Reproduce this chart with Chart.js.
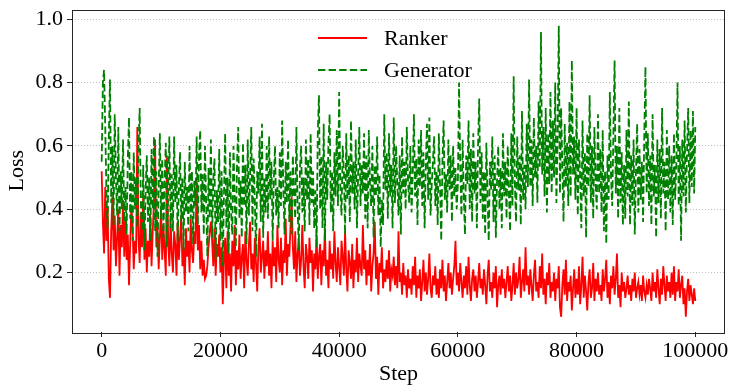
<!DOCTYPE html>
<html>
<head>
<meta charset="utf-8">
<script src="https://cdn.jsdelivr.net/npm/chart.js@4/dist/chart.umd.min.js"></script>
<style>
  html, body { margin: 0; padding: 0; background: #ffffff; }
  #wrap { width: 732px; height: 385px; }
</style>
</head>
<body>
<div id="wrap"><canvas id="c" width="732" height="385"></canvas></div>
<script>
// ---- data ----
const stepInterval = 200;           // one logged point every 200 steps, 0 .. 100000
const xTicks = [0, 20000, 40000, 60000, 80000, 100000];
const yTicks = [0.2, 0.4, 0.6, 0.8, 1.0];
const seriesNames = ["Ranker", "Generator"];

const rankerLoss = [
  0.52,0.36,0.26,0.47,0.30,0.41,0.18,0.12,0.33,0.44,0.27,0.38,0.22,0.31,0.40,0.19,0.35,0.28,0.43,0.25,
  0.37,0.24,0.32,0.16,0.29,0.41,0.35,0.21,0.30,0.26,0.66,0.31,0.23,0.39,0.28,0.45,0.24,0.34,0.20,0.30,
  0.25,0.38,0.22,0.33,0.42,0.62,0.28,0.36,0.21,0.31,0.40,0.24,0.35,0.27,0.19,0.57,0.30,0.22,0.37,0.26,
  0.20,0.33,0.29,0.19,0.36,0.24,0.31,0.38,0.22,0.28,0.16,0.34,0.25,0.30,0.20,0.37,0.27,0.23,0.33,0.29,
  0.50,0.27,0.35,0.21,0.30,0.19,0.24,0.18,0.19,0.22,0.28,0.33,0.36,0.30,0.22,0.34,0.19,0.29,0.25,0.32,
  0.20,0.28,0.10,0.24,0.31,0.15,0.33,0.19,0.26,0.14,0.30,0.22,0.35,0.16,0.27,0.21,0.32,0.18,0.25,0.29,
  0.15,0.33,0.24,0.19,0.29,0.36,0.21,0.26,0.17,0.31,0.23,0.14,0.28,0.34,0.20,0.25,0.30,0.18,0.27,0.22,
  0.33,0.19,0.26,0.15,0.30,0.22,0.28,0.17,0.35,0.24,0.20,0.31,0.16,0.27,0.23,0.37,0.19,0.29,0.25,0.34,
  0.44,0.28,0.21,0.33,0.17,0.26,0.30,0.19,0.24,0.35,0.22,0.15,0.29,0.25,0.18,0.31,0.23,0.27,0.14,0.26,
  0.21,0.32,0.18,0.25,0.29,0.16,0.27,0.22,0.34,0.19,0.24,0.15,0.30,0.21,0.26,0.18,0.33,0.23,0.17,0.28,
  0.22,0.16,0.30,0.25,0.19,0.33,0.21,0.14,0.27,0.23,0.18,0.29,0.15,0.24,0.20,0.31,0.17,0.26,0.22,0.19,
  0.35,0.21,0.27,0.16,0.24,0.19,0.29,0.14,0.22,0.26,0.36,0.18,0.25,0.13,0.23,0.20,0.28,0.15,0.21,0.17,
  0.24,0.18,0.27,0.14,0.21,0.19,0.25,0.16,0.22,0.15,0.33,0.17,0.20,0.13,0.23,0.16,0.19,0.12,0.21,0.15,
  0.18,0.13,0.22,0.16,0.25,0.12,0.19,0.15,0.21,0.11,0.17,0.24,0.14,0.20,0.13,0.18,0.26,0.15,0.12,0.19,
  0.16,0.22,0.13,0.18,0.12,0.21,0.15,0.24,0.14,0.19,0.11,0.17,0.23,0.15,0.20,0.13,0.18,0.22,0.30,0.16,
  0.20,0.14,0.23,0.17,0.12,0.19,0.15,0.22,0.13,0.25,0.16,0.11,0.18,0.21,0.14,0.19,0.12,0.17,0.23,0.15,
  0.18,0.13,0.21,0.16,0.10,0.19,0.24,0.14,0.17,0.12,0.20,0.15,0.22,0.09,0.16,0.19,0.13,0.21,0.15,0.18,
  0.12,0.17,0.22,0.14,0.19,0.11,0.16,0.23,0.13,0.20,0.15,0.18,0.25,0.12,0.17,0.21,0.14,0.28,0.16,0.19,
  0.13,0.21,0.16,0.11,0.19,0.24,0.14,0.17,0.12,0.22,0.15,0.26,0.13,0.18,0.10,0.20,0.16,0.23,0.12,0.17,
  0.14,0.20,0.11,0.18,0.15,0.22,0.09,0.06,0.16,0.21,0.13,0.24,0.11,0.17,0.14,0.19,0.08,0.15,0.21,0.12,
  0.18,0.13,0.22,0.10,0.16,0.25,0.12,0.19,0.14,0.08,0.17,0.21,0.12,0.15,0.23,0.11,0.18,0.14,0.20,0.13,
  0.16,0.11,0.21,0.14,0.18,0.24,0.12,0.17,0.10,0.19,0.15,0.22,0.13,0.18,0.26,0.12,0.16,0.09,0.20,0.14,
  0.17,0.12,0.15,0.19,0.13,0.16,0.11,0.18,0.14,0.20,0.12,0.15,0.17,0.13,0.16,0.11,0.19,0.14,0.12,0.16,
  0.13,0.18,0.15,0.11,0.20,0.14,0.17,0.12,0.21,0.15,0.10,0.18,0.13,0.22,0.16,0.11,0.19,0.14,0.17,0.12,
  0.20,0.13,0.22,0.11,0.17,0.14,0.21,0.12,0.16,0.19,0.10,0.15,0.06,0.14,0.18,0.11,0.16,0.13,0.10,0.15,
  0.11
];

const generatorLoss = [
  0.55,0.80,0.84,0.66,0.45,0.34,0.63,0.81,0.42,0.60,0.35,0.70,0.50,0.38,0.66,0.33,0.52,0.40,0.62,0.36,
  0.47,0.32,0.56,0.69,0.37,0.52,0.30,0.58,0.40,0.50,0.34,0.60,0.72,0.41,0.33,0.54,0.27,0.46,0.57,0.36,
  0.50,0.30,0.59,0.40,0.63,0.33,0.52,0.25,0.47,0.64,0.37,0.56,0.31,0.49,0.61,0.28,0.45,0.63,0.34,0.51,
  0.33,0.63,0.42,0.54,0.30,0.47,0.58,0.36,0.50,0.27,0.55,0.39,0.47,0.33,0.60,0.37,0.52,0.29,0.49,0.41,
  0.63,0.35,0.57,0.65,0.39,0.51,0.32,0.60,0.42,0.25,0.53,0.37,0.62,0.31,0.49,0.56,0.24,0.46,0.36,0.59,
  0.30,0.52,0.22,0.45,0.64,0.34,0.50,0.26,0.58,0.39,0.32,0.60,0.44,0.28,0.55,0.66,0.37,0.49,0.31,0.61,
  0.41,0.54,0.29,0.62,0.38,0.50,0.66,0.33,0.56,0.43,0.25,0.52,0.45,0.63,0.36,0.67,0.31,0.50,0.39,0.60,
  0.37,0.63,0.43,0.55,0.30,0.50,0.60,0.38,0.47,0.34,0.58,0.41,0.68,0.46,0.32,0.55,0.42,0.62,0.36,0.52,
  0.32,0.57,0.45,0.37,0.66,0.41,0.27,0.53,0.60,0.39,0.50,0.33,0.62,0.43,0.56,0.35,0.64,0.42,0.52,0.34,
  0.46,0.28,0.64,0.76,0.40,0.57,0.34,0.67,0.30,0.55,0.43,0.61,0.70,0.39,0.52,0.33,0.58,0.44,0.65,0.41,
  0.77,0.47,0.38,0.60,0.52,0.32,0.64,0.43,0.57,0.36,0.68,0.45,0.55,0.40,0.62,0.34,0.51,0.66,0.41,0.54,
  0.45,0.64,0.37,0.57,0.34,0.65,0.48,0.41,0.60,0.31,0.54,0.44,0.63,0.38,0.51,0.28,0.43,0.35,0.70,0.46,
  0.58,0.37,0.64,0.44,0.54,0.34,0.69,0.42,0.60,0.48,0.38,0.57,0.32,0.63,0.45,0.55,0.40,0.66,0.49,0.42,
  0.60,0.39,0.51,0.70,0.44,0.56,0.35,0.62,0.47,0.65,0.41,0.58,0.34,0.54,0.67,0.43,0.69,0.38,0.48,0.55,
  0.63,0.41,0.52,0.35,0.64,0.47,0.30,0.55,0.68,0.43,0.51,0.39,0.62,0.46,0.57,0.36,0.60,0.44,0.53,0.40,
  0.48,0.80,0.53,0.38,0.62,0.44,0.32,0.57,0.48,0.68,0.40,0.59,0.36,0.64,0.45,0.55,0.34,0.60,0.75,0.42,
  0.58,0.37,0.52,0.32,0.61,0.43,0.30,0.55,0.46,0.63,0.36,0.57,0.31,0.49,0.60,0.40,0.53,0.34,0.64,0.44,
  0.55,0.37,0.60,0.45,0.33,0.64,0.41,0.82,0.48,0.36,0.63,0.46,0.57,0.35,0.71,0.43,0.54,0.40,0.67,0.47,
  0.81,0.47,0.62,0.41,0.69,0.50,0.60,0.42,0.74,0.53,0.96,0.51,0.66,0.44,0.72,0.39,0.64,0.48,0.77,0.45,
  0.68,0.50,0.80,0.42,0.62,0.98,0.45,0.72,0.53,0.36,0.67,0.47,0.61,0.41,0.74,0.44,0.87,0.51,0.63,0.43,
  0.72,0.38,0.62,0.50,0.34,0.68,0.44,0.58,0.31,0.64,0.47,0.76,0.42,0.60,0.37,0.66,0.48,0.40,0.70,0.45,
  0.59,0.39,0.65,0.33,0.52,0.29,0.57,0.43,0.77,0.50,0.41,0.64,0.87,0.45,0.60,0.37,0.72,0.42,0.58,0.35,
  0.54,0.37,0.65,0.44,0.74,0.35,0.57,0.41,0.62,0.32,0.52,0.67,0.39,0.59,0.43,0.55,0.36,0.63,0.85,0.45,
  0.64,0.41,0.57,0.35,0.70,0.44,0.54,0.31,0.62,0.42,0.59,0.37,0.72,0.45,0.55,0.33,0.65,0.43,0.60,0.39,
  0.57,0.35,0.64,0.43,0.54,0.80,0.41,0.60,0.30,0.62,0.44,0.68,0.39,0.58,0.72,0.42,0.65,0.47,0.71,0.45,
  0.66
];

const steps = rankerLoss.map((_, i) => i * stepInterval);
const toPoints = arr => arr.map((v, i) => ({ x: steps[i], y: v }));

// ---- styling ----
const FONT = "'Liberation Serif', 'Times New Roman', serif";
const AXIS_COLOR = '#262626';

const boxPlugin = {
  id: 'box',
  afterDraw(chart) {
    const { ctx, chartArea: a } = chart;
    ctx.save();
    ctx.strokeStyle = AXIS_COLOR;
    ctx.lineWidth = 1;
    ctx.setLineDash([]);
    ctx.strokeRect(Math.round(a.left) + 0.5, Math.round(a.top) + 0.5,
                   Math.round(a.right - a.left) - 1, Math.round(a.bottom - a.top));
    ctx.restore();
  }
};

const legendPlugin = {
  id: 'inlineLegend',
  afterDatasetsDraw(chart) {
    const { ctx } = chart;
    const rows = [0, 1];
    ctx.save();
    rows.forEach((di, r) => {
      const ds = chart.data.datasets[di];
      const y = 38 + r * 32;
      ctx.beginPath();
      ctx.strokeStyle = ds.borderColor;
      ctx.lineWidth = 2;
      ctx.setLineDash(ds.borderDash || []);
      ctx.moveTo(318, y);
      ctx.lineTo(367, y);
      ctx.stroke();
      ctx.setLineDash([]);
      ctx.fillStyle = '#000';
      ctx.font = "22px " + FONT;
      ctx.textBaseline = 'middle';
      ctx.textAlign = 'left';
      ctx.fillText(ds.label, 384, y + 1);
    });
    ctx.restore();
  }
};

new Chart(document.getElementById('c'), {
  type: 'line',
  data: {
    datasets: [
      {
        label: seriesNames[0],
        data: toPoints(rankerLoss),
        borderColor: '#ff0000',
        borderWidth: 1.8,
        pointRadius: 0,
        tension: 0,
        order: 1
      },
      {
        label: seriesNames[1],
        data: toPoints(generatorLoss),
        borderColor: '#008000',
        borderWidth: 1.8,
        borderDash: [7.4, 3.2],
        pointRadius: 0,
        tension: 0,
        order: 0
      }
    ]
  },
  options: {
    responsive: false,
    animation: false,
    devicePixelRatio: 1,
    layout: { padding: { top: 7, right: 7, left: 0, bottom: 0 } },
    plugins: { legend: { display: false }, tooltip: { enabled: false } },
    scales: {
      x: {
        type: 'linear',
        min: -5000,
        max: 105000,
        afterBuildTicks: s => { s.ticks = xTicks.map(v => ({ value: v })); },
        afterFit: s => { s.height = 53; },
        grid: { drawOnChartArea: false, drawTicks: true, tickLength: 5, tickColor: AXIS_COLOR, tickWidth: 1 },
        border: { display: false },
        ticks: {
          padding: 1, maxRotation: 0, autoSkip: false,
          color: '#000', font: { family: FONT, size: 22 },
          callback: v => String(v)
        },
        title: {
          display: true, text: 'Step', color: '#000',
          font: { family: FONT, size: 22, lineHeight: 1 },
          padding: { top: 0, bottom: 0 }
        }
      },
      y: {
        type: 'linear',
        min: 0.012,
        max: 1.031,
        afterBuildTicks: s => { s.ticks = yTicks.map(v => ({ value: v })); },
        afterFit: s => { s.width = 72; },
        grid: {
          drawOnChartArea: true, drawTicks: true, tickLength: 5,
          color: '#b0b0b0', lineWidth: 0.8,
          tickColor: AXIS_COLOR, tickWidth: 1, tickBorderDash: []
        },
        border: { display: false, dash: [1, 2] },
        ticks: {
          padding: 4, autoSkip: false,
          color: '#000', font: { family: FONT, size: 22, lineHeight: 0.5 },
          callback: v => Number(v).toFixed(1)
        },
        title: {
          display: true, text: 'Loss', color: '#000',
          font: { family: FONT, size: 22, lineHeight: 1 },
          padding: { top: 6, bottom: 0 }
        }
      }
    }
  },
  plugins: [boxPlugin, legendPlugin]
});
</script>
</body>
</html>
